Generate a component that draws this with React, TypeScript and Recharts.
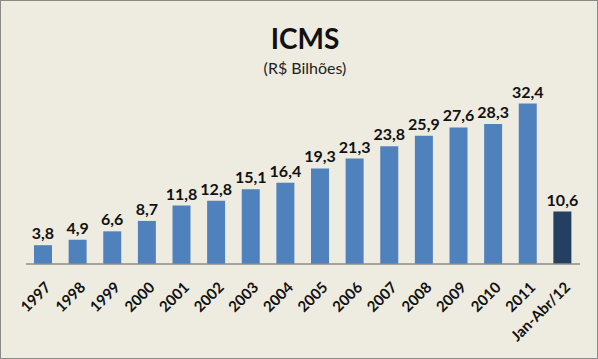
import { BarChart, Bar, XAxis, YAxis, Cell, LabelList } from 'recharts'

const anos = ['1997', '1998', '1999', '2000', '2001', '2002', '2003', '2004', '2005', '2006', '2007', '2008', '2009', '2010', '2011', 'Jan-Abr/12']
const valores = [3.8, 4.9, 6.6, 8.7, 11.8, 12.8, 15.1, 16.4, 19.3, 21.3, 23.8, 25.9, 27.6, 28.3, 32.4, 10.6]

const data = anos.map((ano, i) => ({ ano, valor: valores[i] }))

const fonte = 'Lato, "Open Sans", sans-serif'

const TickRotado = (props: any) => {
  const { x, y, payload } = props
  return (
    <g transform={`translate(${x + 1},${y + 9})`}>
      <text
        x={0}
        y={0}
        dy="0.7em"
        textAnchor="end"
        transform="rotate(-45)"
        fontFamily={fonte}
        fontWeight={700}
        fontSize={15}
        fill="#111"
      >
        {payload.value}
      </text>
    </g>
  )
}

export default function App() {
  return (
    <div style={{ position: 'relative', width: 598, height: 359, background: '#eeece1', boxSizing: 'border-box', border: '1.5px solid #8a8a86', fontFamily: fonte }}>
      <style>{'body{margin:0}'}</style>
      <div style={{ position: 'absolute', top: 20, left: 0, width: 608, textAlign: 'center', fontSize: 28, fontWeight: 700, color: '#111' }}>
        ICMS
      </div>
      <div style={{ position: 'absolute', top: 57, left: 0, width: 608, textAlign: 'center', fontSize: 16, color: '#222' }}>
        (R$ Bilhões)
      </div>
      <BarChart
        width={598}
        height={359}
        data={data}
        margin={{ top: 66, right: 18, bottom: 15, left: 26 }}
        barSize={18}
        style={{ position: 'absolute', top: -1.5, left: -1.5 }}
      >
        <XAxis
          dataKey="ano"
          interval={0}
          height={80}
          tickLine={false}
          axisLine={{ stroke: '#8c8c8c', strokeWidth: 1.5 }}
          tick={<TickRotado />}
        />
        <YAxis hide domain={[0, 40]} />
        <Bar dataKey="valor" isAnimationActive={false}>
          {data.map((d, i) => (
            <Cell key={d.ano} fill={i === data.length - 1 ? '#243f60' : '#4f81bd'} />
          ))}
          <LabelList
            dataKey="valor"
            position="top"
            offset={6}
            formatter={(v: any) => String(v).replace('.', ',')}
            style={{ fontFamily: fonte, fontWeight: 700, fontSize: 16, fill: '#111' }}
          />
        </Bar>
      </BarChart>
    </div>
  )
}
